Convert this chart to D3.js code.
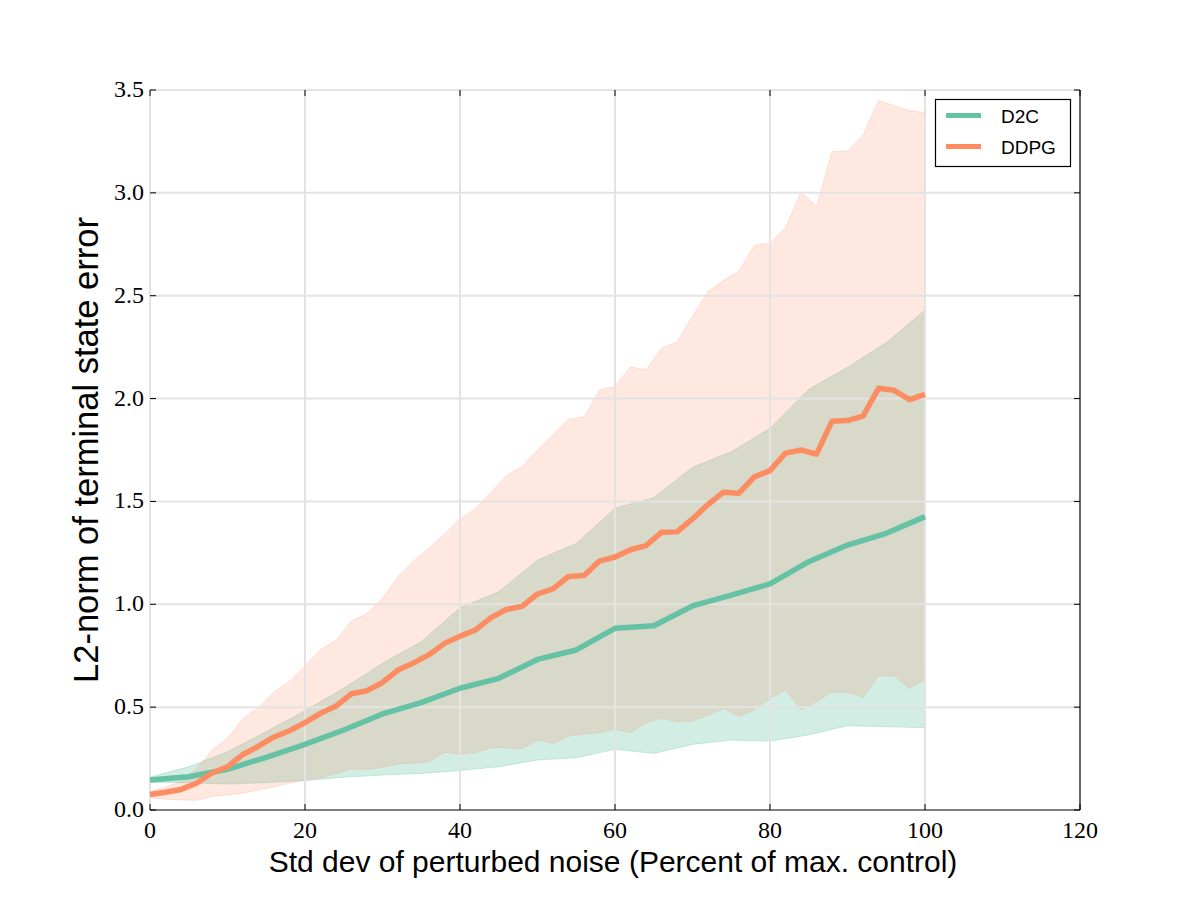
<!DOCTYPE html>
<html>
<head>
<meta charset="utf-8">
<script src="https://cdn.jsdelivr.net/npm/d3@7.9.0/dist/d3.min.js"></script>
<style>
  body { margin: 0; background: #fff; }
  svg { display: block; }
</style>
</head>
<body>
<svg id="chart" width="1200" height="900"></svg>
<script>
// noise levels (percent of max control)
const ddpgX = [0, 2, 4, 6, 8, 10, 12, 14, 16, 18, 20, 22, 24, 26, 28, 30, 32, 34, 36, 38, 40,
  42, 44, 46, 48, 50, 52, 54, 56, 58, 60, 62, 64, 66, 68, 70, 72, 74, 76, 78, 80,
  82, 84, 86, 88, 90, 92, 94, 96, 98, 100];
const ddpgMean = [0.075, 0.086, 0.10, 0.13, 0.18, 0.21, 0.27, 0.31, 0.355, 0.385, 0.425,
  0.47, 0.505, 0.565, 0.58, 0.62, 0.68, 0.715, 0.755, 0.81, 0.845,
  0.875, 0.935, 0.975, 0.99, 1.05, 1.075, 1.135, 1.14, 1.21, 1.23,
  1.265, 1.285, 1.35, 1.352, 1.415, 1.485, 1.545, 1.54, 1.62, 1.65,
  1.735, 1.75, 1.73, 1.89, 1.893, 1.915, 2.05, 2.04, 1.995, 2.02];
const ddpgUpper = [0.09, 0.11, 0.14, 0.2, 0.29, 0.35, 0.445, 0.5, 0.575, 0.625, 0.7,
  0.78, 0.825, 0.92, 0.955, 1.03, 1.135, 1.21, 1.275, 1.34, 1.415,
  1.465, 1.545, 1.625, 1.67, 1.75, 1.825, 1.9, 1.91, 2.04, 2.06,
  2.155, 2.14, 2.245, 2.275, 2.4, 2.52, 2.575, 2.62, 2.745, 2.755,
  2.83, 3.005, 2.935, 3.2, 3.205, 3.28, 3.45, 3.425, 3.4, 3.39];
const ddpgLower = [0.058, 0.052, 0.049, 0.047, 0.065, 0.073, 0.082, 0.097, 0.113, 0.13, 0.146,
  0.155, 0.178, 0.198, 0.198, 0.207, 0.224, 0.227, 0.235, 0.28, 0.272,
  0.278, 0.303, 0.303, 0.298, 0.34, 0.324, 0.36, 0.368, 0.376, 0.392,
  0.376, 0.424, 0.446, 0.429, 0.433, 0.462, 0.494, 0.454, 0.486, 0.543,
  0.583, 0.486, 0.527, 0.572, 0.572, 0.548, 0.651, 0.651, 0.591, 0.637];

const d2cX = [0, 5, 10, 15, 20, 25, 30, 35, 40, 45, 50, 55, 60, 65, 70, 75, 80, 85, 90, 95, 100];
const d2cMean = [0.146, 0.162, 0.198, 0.256, 0.319, 0.389, 0.467, 0.522, 0.592, 0.64, 0.732,
  0.778, 0.883, 0.896, 0.992, 1.045, 1.099, 1.207, 1.288, 1.345, 1.426];
const d2cUpper = [0.16, 0.21, 0.283, 0.381, 0.483, 0.592, 0.713, 0.818, 0.983, 1.061, 1.215,
  1.296, 1.467, 1.518, 1.666, 1.742, 1.855, 2.045, 2.152, 2.272, 2.43];
const d2cLower = [0.135, 0.133, 0.126, 0.133, 0.143, 0.159, 0.17, 0.178, 0.192, 0.21, 0.243,
  0.254, 0.295, 0.275, 0.319, 0.34, 0.335, 0.365, 0.41, 0.405, 0.40];

const xTicks = [0, 20, 40, 60, 80, 100, 120];
const yTicks = [0.0, 0.5, 1.0, 1.5, 2.0, 2.5, 3.0, 3.5];
const seriesNames = ['D2C', 'DDPG'];
const colors = ['#66c2a5', '#fc8d62'];

const margin = { left: 150, top: 90, right: 120, bottom: 90 };
const width = 1200, height = 900;

const svg = d3.select('#chart');
const x = d3.scaleLinear().domain([0, 120]).range([margin.left, width - margin.right]);
const y = d3.scaleLinear().domain([0, 3.5]).range([height - margin.bottom, margin.top]);

const d2c = d2cX.map((v, i) => ({ x: v, m: d2cMean[i], lo: d2cLower[i], hi: d2cUpper[i] }));
const ddpg = ddpgX.map((v, i) => ({ x: v, m: ddpgMean[i], lo: ddpgLower[i], hi: ddpgUpper[i] }));

const area = d3.area().x(d => x(d.x)).y0(d => y(d.lo)).y1(d => y(d.hi));
const line = d3.line().x(d => x(d.x)).y(d => y(d.m));

// bands
[d2c, ddpg].forEach((data, i) => {
  svg.append('path')
    .attr('d', area(data))
    .attr('fill', colors[i])
    .attr('fill-opacity', i === 0 ? 0.3 : 0.2)
    .attr('stroke', colors[i])
    .attr('stroke-opacity', i === 0 ? 0.3 : 0.2)
    .attr('stroke-width', 1);
});

// grid (above the bands, below the lines)
const grid = svg.append('g').attr('stroke', '#e3e3e3').attr('stroke-width', 2);
xTicks.slice(0, -1).forEach(t => {
  grid.append('line').attr('x1', x(t)).attr('x2', x(t)).attr('y1', y(0)).attr('y2', y(3.5));
});
yTicks.slice(1).forEach(t => {
  grid.append('line').attr('x1', x(0)).attr('x2', x(120)).attr('y1', y(t)).attr('y2', y(t));
});

// mean lines
[d2c, ddpg].forEach((data, i) => {
  svg.append('path')
    .attr('d', line(data))
    .attr('fill', 'none')
    .attr('stroke', colors[i])
    .attr('stroke-width', 5.5)
    .attr('stroke-linejoin', 'round');
});

// spines
svg.append('line').attr('x1', x(0)).attr('x2', x(120)).attr('y1', y(0)).attr('y2', y(0))
  .attr('stroke', '#000').attr('stroke-width', 1.2);
svg.append('line').attr('x1', x(120)).attr('x2', x(120)).attr('y1', y(0)).attr('y2', y(3.5))
  .attr('stroke', '#000').attr('stroke-width', 1.2);

// ticks, inward on all four sides
const ticks = svg.append('g').attr('stroke', '#000').attr('stroke-width', 1);
xTicks.forEach(t => {
  ticks.append('line').attr('x1', x(t)).attr('x2', x(t)).attr('y1', y(0)).attr('y2', y(0) - 6);
  ticks.append('line').attr('x1', x(t)).attr('x2', x(t)).attr('y1', y(3.5)).attr('y2', y(3.5) + 6);
});
yTicks.forEach(t => {
  ticks.append('line').attr('x1', x(0)).attr('x2', x(0) + 6).attr('y1', y(t)).attr('y2', y(t));
  ticks.append('line').attr('x1', x(120)).attr('x2', x(120) - 6).attr('y1', y(t)).attr('y2', y(t));
});

// tick labels
const serif = '"Liberation Serif", "DejaVu Serif", serif';
svg.append('g').selectAll('text').data(xTicks).join('text')
  .attr('x', d => x(d)).attr('y', y(0) + 28)
  .attr('text-anchor', 'middle')
  .attr('font-family', serif).attr('font-size', 24)
  .text(d => d);
svg.append('g').selectAll('text').data(yTicks).join('text')
  .attr('x', x(0) - 6).attr('y', d => y(d) + 7)
  .attr('text-anchor', 'end')
  .attr('font-family', serif).attr('font-size', 24)
  .text(d => d.toFixed(1));

// axis labels
const sans = '"Liberation Sans", Arial, sans-serif';
svg.append('text')
  .attr('x', 613).attr('y', 872)
  .attr('text-anchor', 'middle')
  .attr('font-family', sans).attr('font-size', 30)
  .text('Std dev of perturbed noise (Percent of max. control)');
svg.append('text')
  .attr('transform', `translate(98, ${(y(0) + y(3.5)) / 2}) rotate(-90)`)
  .attr('text-anchor', 'middle')
  .attr('font-family', sans).attr('font-size', 34.5)
  .text('L2-norm of terminal state error');

// legend
const legend = svg.append('g');
legend.append('rect')
  .attr('x', 935.5).attr('y', 99.5).attr('width', 135).attr('height', 67)
  .attr('fill', '#fff').attr('stroke', '#000').attr('stroke-width', 1.2);
seriesNames.forEach((name, i) => {
  const ly = 115.5 + i * 31;
  legend.append('line')
    .attr('x1', 946).attr('x2', 981).attr('y1', ly).attr('y2', ly)
    .attr('stroke', colors[i]).attr('stroke-width', 5);
  legend.append('text')
    .attr('x', 1001).attr('y', ly + 7)
    .attr('font-family', sans).attr('font-size', 19)
    .text(name);
});
</script>
</body>
</html>
